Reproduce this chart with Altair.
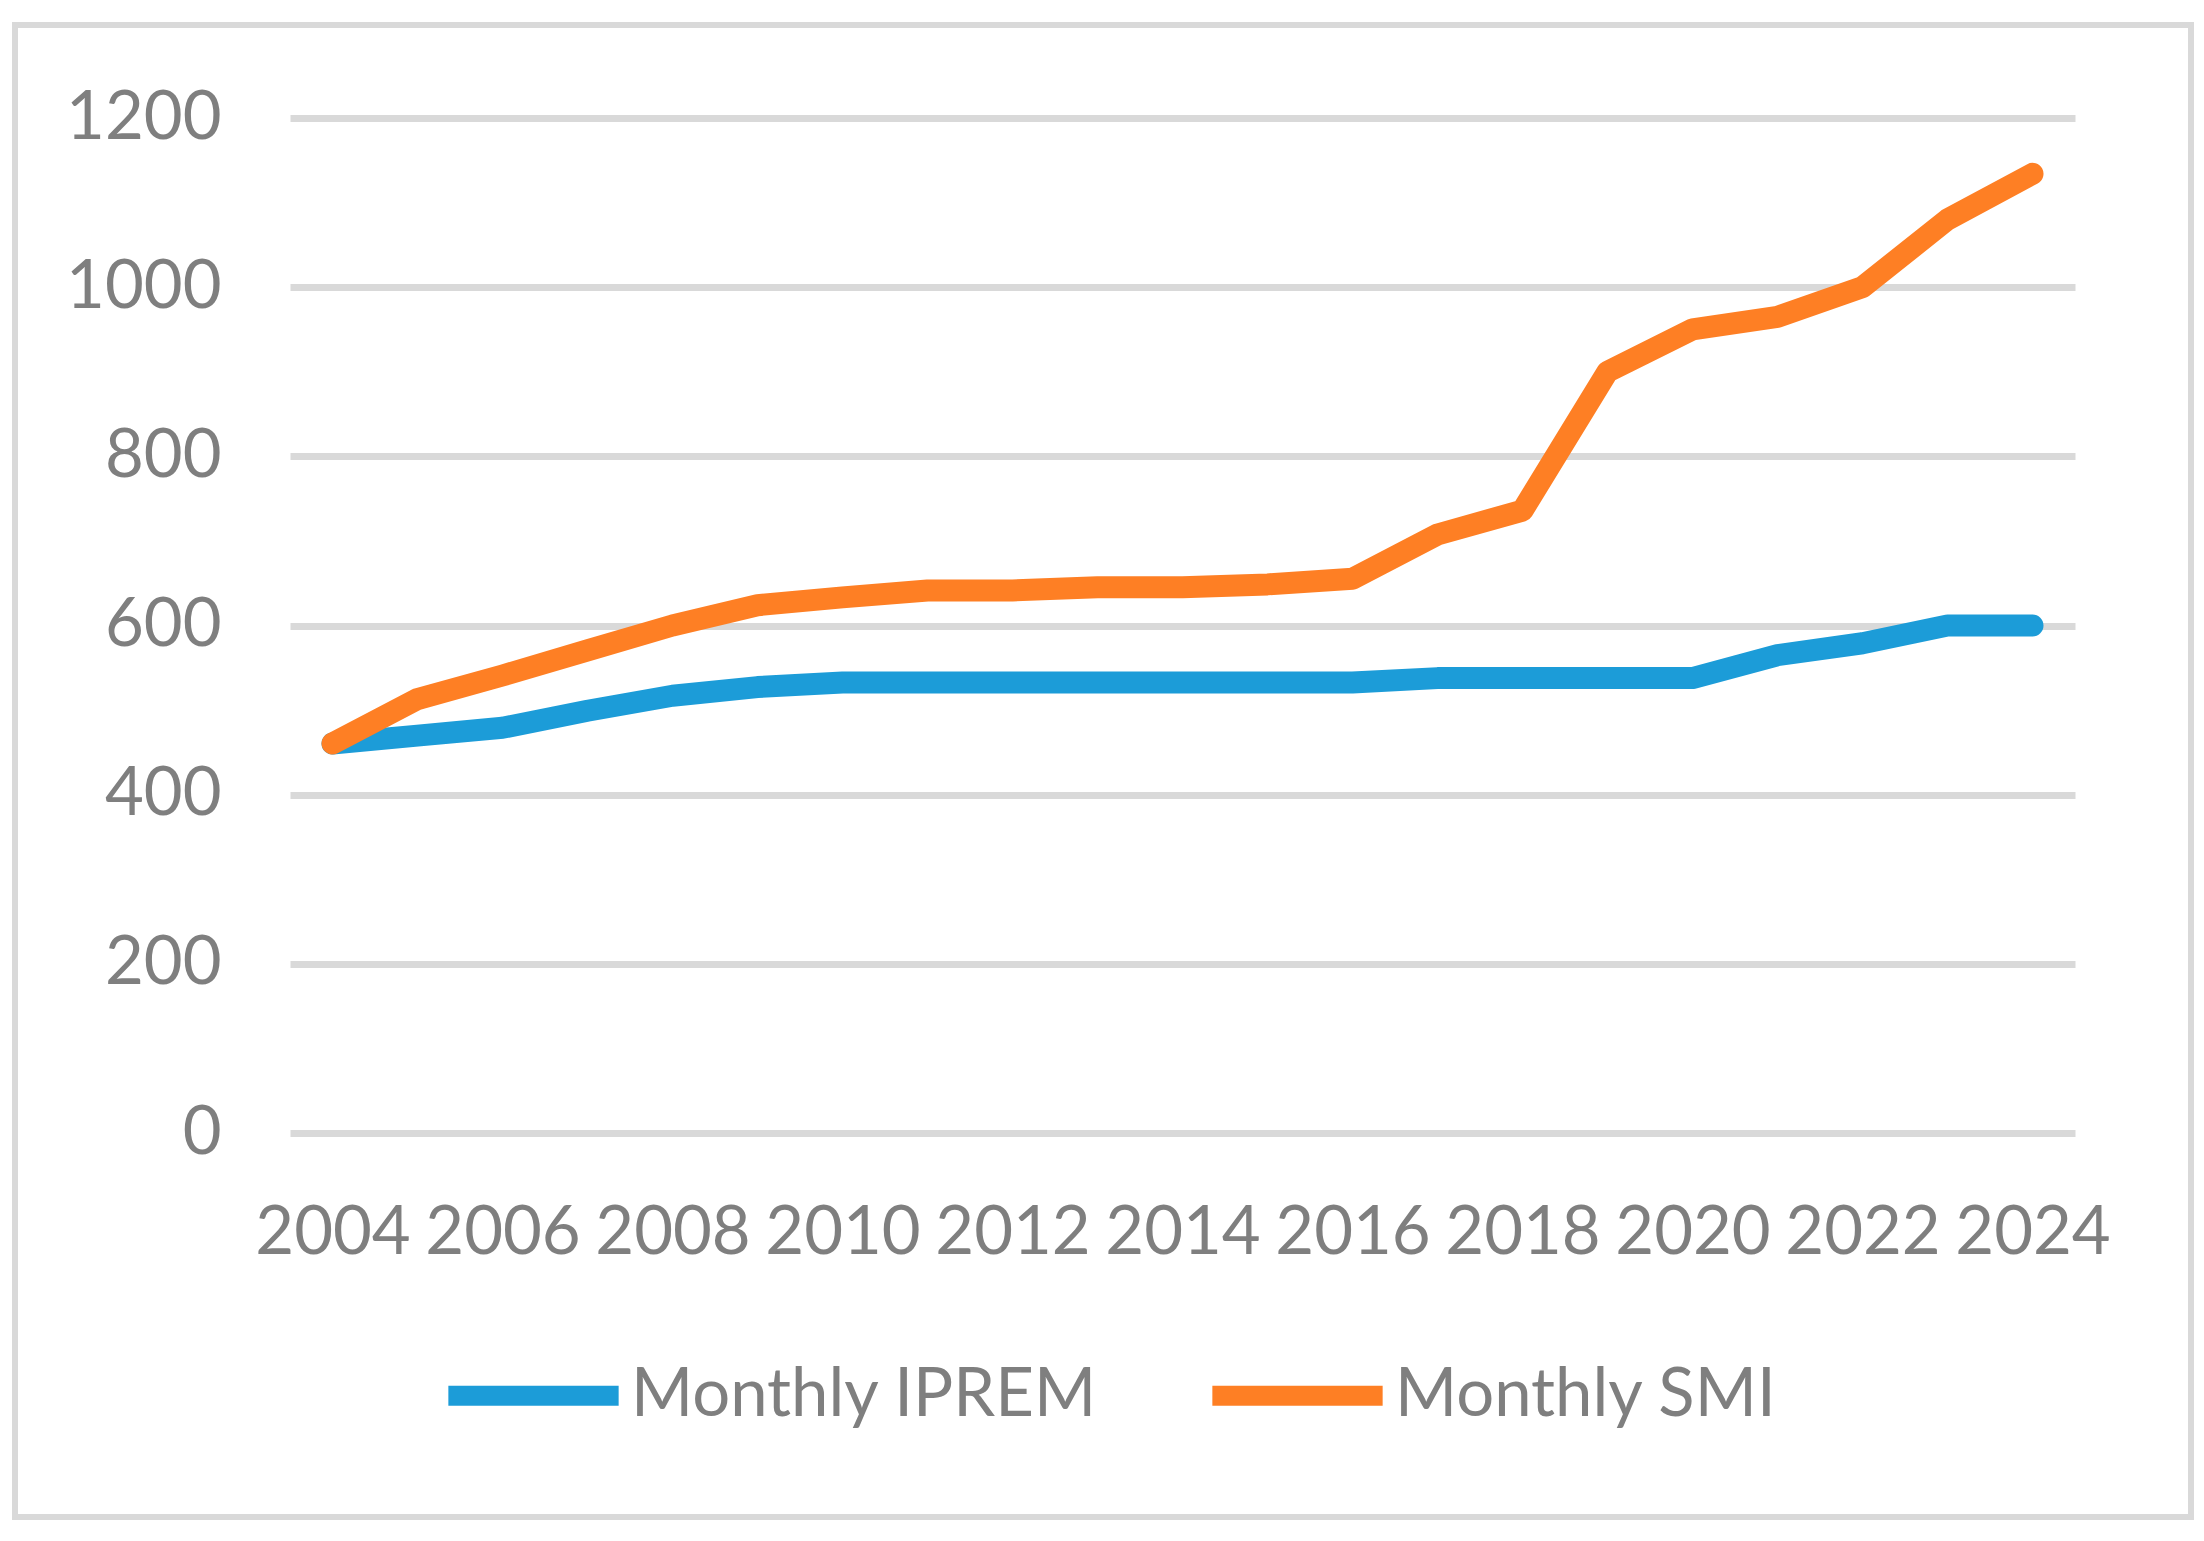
import altair as alt
import pandas as pd

years = list(range(2004, 2025))
iprem = [460.5, 469.8, 479.1, 499.2, 516.9, 527.2, 532.5, 532.5, 532.5, 532.5, 532.5,
         532.5, 532.5, 537.8, 537.8, 537.8, 537.8, 564.9, 579.0, 600.0, 600.0]
smi = [460.5, 513.0, 540.9, 570.6, 600.0, 624.0, 633.3, 641.4, 641.4, 645.3, 645.3,
       648.6, 655.2, 707.6, 735.9, 900.0, 950.0, 965.0, 1000.0, 1080.0, 1134.0]
series_names = ["Monthly IPREM", "Monthly SMI"]
series_colors = ["#1C9CD8", "#FE7F24"]
x_label_years = list(range(2004, 2025, 2))
y_ticks = [0, 200, 400, 600, 800, 1000, 1200]

rows = []
for name, vals in zip(series_names, [iprem, smi]):
    for yr, v in zip(years, vals):
        rows.append({"year": yr, "value": v, "series": name})
df = pd.DataFrame(rows)

FONT = "Lato"
TEXT = "#7F7F7F"

lines = alt.Chart(df).mark_line(
    strokeWidth=22, strokeCap="round", strokeJoin="round"
).encode(
    x=alt.X("year:O", title=None,
            axis=alt.Axis(values=x_label_years, labelAngle=0, ticks=False, domain=False,
                          grid=False, labelPadding=67, labelFontSize=67,
                          labelFont=FONT, labelColor=TEXT)),
    y=alt.Y("value:Q", title=None,
            scale=alt.Scale(domain=[0, 1200], nice=False),
            axis=alt.Axis(values=y_ticks, format="d", ticks=False, domain=False, grid=True,
                          gridColor="#D9D9D9", gridWidth=7, labelPadding=69,
                          labelFontSize=67, labelFont=FONT, labelColor=TEXT)),
    color=alt.Color("series:N",
                    scale=alt.Scale(domain=series_names, range=series_colors),
                    legend=alt.Legend(title=None, orient="none", direction="horizontal",
                                      legendX=148, legendY=1182,
                                      symbolType="stroke", symbolSize=29000,
                                      symbolStrokeWidth=20, labelOffset=2,
                                      columnPadding=74, labelFontSize=67,
                                      labelLimit=0,
                                      labelFont=FONT, labelColor=TEXT)),
)

border = alt.Chart(pd.DataFrame({"k": [0]})).mark_rect(
    fill="transparent", stroke="#D9D9D9", strokeWidth=6, clip=False
).encode(
    x=alt.value(-275), x2=alt.value(1901), y=alt.value(-93), y2=alt.value(1399)
)

chart = alt.layer(border, lines).properties(
    width=1785, height=1015,
    background="white",
    autosize=alt.AutoSizeParams(type="none"),
    padding={"left": 282, "top": 110, "right": 121, "bottom": 388},
).configure_view(strokeWidth=0)

chart.save("out.html", embed_options={"renderer": "svg", "actions": False})
